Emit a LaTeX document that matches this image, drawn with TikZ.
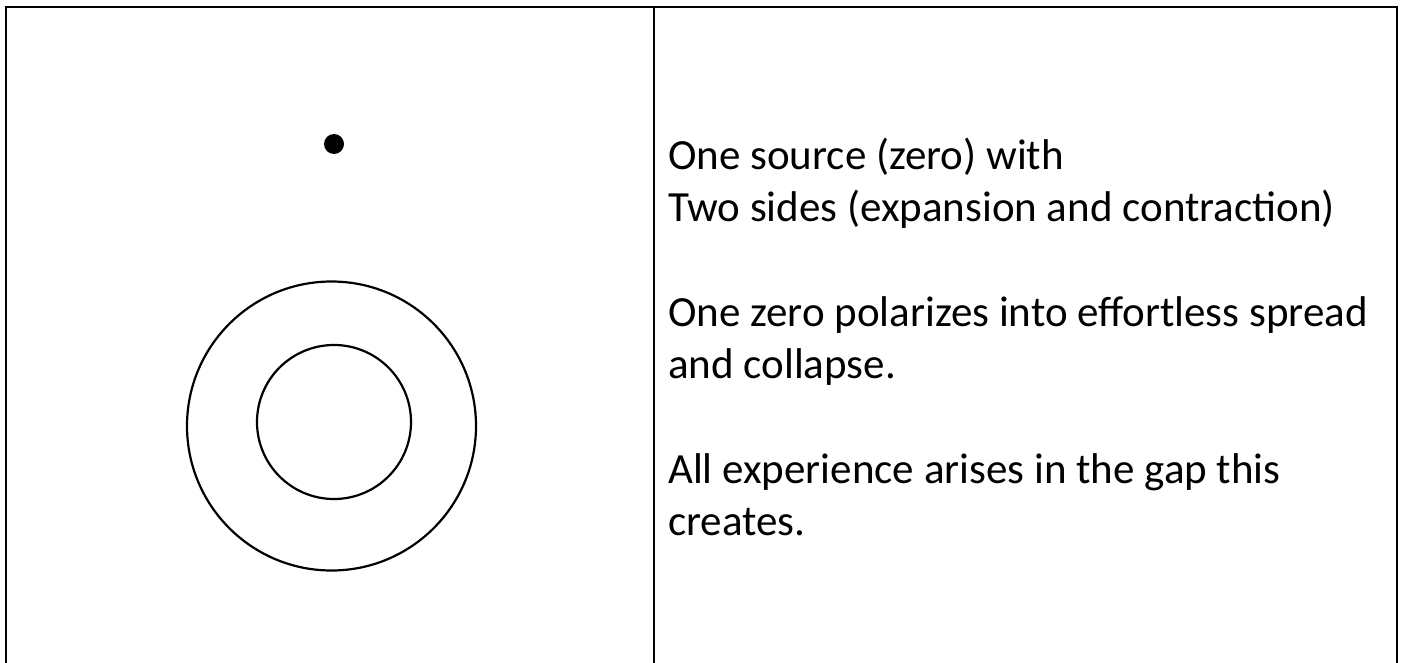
\documentclass[tikz,border=0pt]{standalone}
\usepackage{fontspec}
\setmainfont{Carlito}
\usetikzlibrary{positioning}

\begin{document}
\begin{tikzpicture}[x=1pt, y=-1pt,
        frame/.style={line width=2.5pt, black},
        ring/.style={line width=2.2pt, black},
        txt/.style={font=\fontsize{43}{52}\selectfont, text=black,
                    anchor=base west, inner sep=0pt}
    ]
    \useasboundingbox (0, 0) rectangle (1402, 663);

    % table frame, open at the bottom
    \draw[frame] (6, 663) -- (6, 7) -- (1397, 7) -- (1397, 663);
    \draw[line width=2pt] (654, 7) -- (654, 663);

    % left cell
    \fill (334, 144) circle (10);
    \draw[ring] (331.5, 426) circle (144.5);
    \draw[ring] (334, 422) circle (77);

    % right cell
    \node[txt] (srcA) at (668, 170) {One source (zero) with};
    \node[txt] (srcB) at (668, 222) {Two sides (expansion and contraction)};

    \node[txt] (zeroA) at (668, 326) {One zero polarizes into effortless spread};
    \node[txt] (zeroB) at (668, 378) {and collapse.};

    \node[txt] (gapA) at (668, 483) {All experience arises in the gap this};
    \node[txt] (gapB) at (668, 535) {creates.};

\end{tikzpicture}
\end{document}
